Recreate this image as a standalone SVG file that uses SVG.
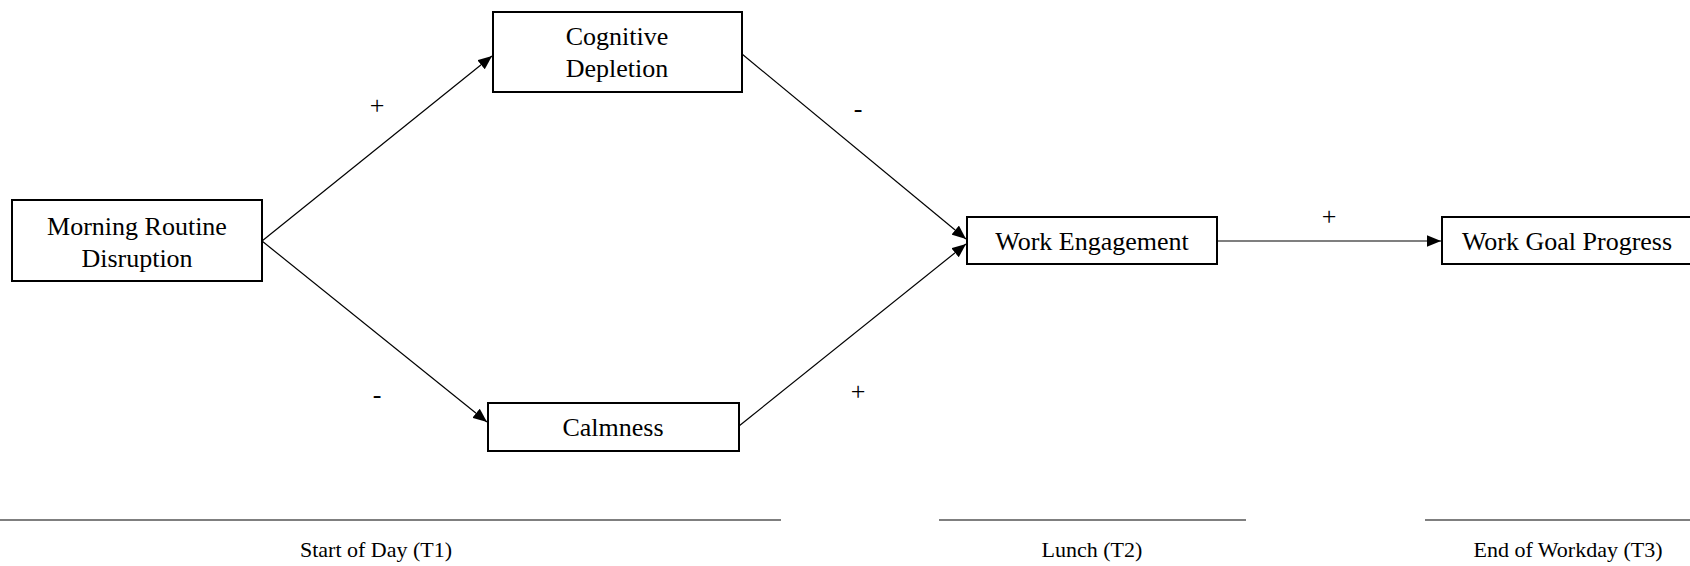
<svg xmlns="http://www.w3.org/2000/svg" width="1690" height="566" viewBox="0 0 1690 566">
<style>
.box{fill:#fff;stroke:#000;stroke-width:2}
.t{font-family:"Liberation Serif","Times New Roman",serif;font-size:26px;fill:#000;text-anchor:middle}
.s{font-family:"Liberation Serif","Times New Roman",serif;font-size:26px;fill:#000;text-anchor:middle}
.lab{font-family:"Liberation Serif","Times New Roman",serif;font-size:22px;fill:#000;text-anchor:middle}
.c{stroke:#000;stroke-width:1.2;fill:none;marker-end:url(#ah)}
.rule{stroke:#000;stroke-width:1.2}
</style>
<defs>
<marker id="ah" markerUnits="userSpaceOnUse" markerWidth="14" markerHeight="12" refX="12" refY="5" orient="auto" viewBox="0 0 12 10">
<path d="M0,0 L12,5 L0,10 Z" fill="#000"/>
</marker>
</defs>
<g id="connectors">
<line class="c" x1="262" y1="241" x2="492" y2="56"/>
<line class="c" x1="262" y1="241" x2="487" y2="422"/>
<line class="c" x1="742" y1="54" x2="966" y2="239"/>
<line class="c" x1="739" y1="426" x2="966" y2="244"/>
<line class="c" x1="1217" y1="241" x2="1441" y2="241"/>
</g>
<g id="signs">
<text class="s" x="377" y="114">+</text>
<text class="s" x="858" y="117">-</text>
<text class="s" x="377" y="403">-</text>
<text class="s" x="858" y="400">+</text>
<text class="s" x="1329" y="225">+</text>
</g>
<g id="morning">
<rect class="box" x="12" y="200" width="250" height="81"/>
<text class="t" x="137" y="235">Morning Routine</text>
<text class="t" x="137" y="267">Disruption</text>
</g>
<g id="cognitive">
<rect class="box" x="493" y="12" width="249" height="80"/>
<text class="t" x="617" y="45">Cognitive</text>
<text class="t" x="617" y="77">Depletion</text>
</g>
<g id="calmness">
<rect class="box" x="488" y="403" width="251" height="48"/>
<text class="t" x="613" y="436">Calmness</text>
</g>
<g id="engagement">
<rect class="box" x="967" y="217" width="250" height="47"/>
<text class="t" x="1092" y="250">Work Engagement</text>
</g>
<g id="goal">
<rect class="box" x="1442" y="217" width="260" height="47"/>
<text class="t" x="1567" y="250">Work Goal Progress</text>
</g>
<g id="timeline">
<line class="rule" x1="0" y1="520" x2="781" y2="520"/>
<line class="rule" x1="939" y1="520" x2="1246" y2="520"/>
<line class="rule" x1="1425" y1="520" x2="1690" y2="520"/>
<text class="lab" x="376" y="557">Start of Day (T1)</text>
<text class="lab" x="1092" y="557">Lunch (T2)</text>
<text class="lab" x="1568" y="557">End of Workday (T3)</text>
</g>
</svg>
